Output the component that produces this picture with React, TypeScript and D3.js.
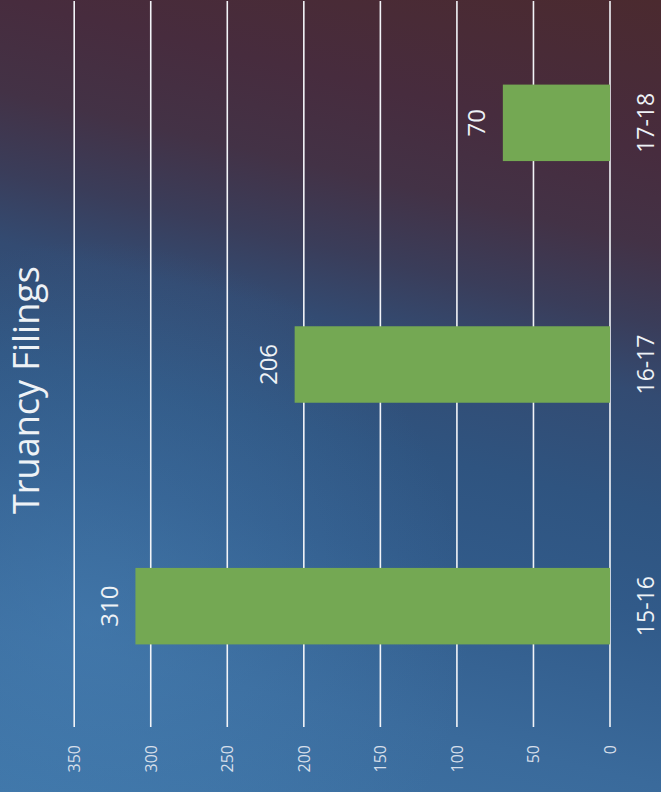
import React from "react";
import * as d3 from "d3";

const categories = ["15-16", "16-17", "17-18"];
const values = [310, 206, 70];
const tickValues = [0, 50, 100, 150, 200, 250, 300, 350];
const title = "Truancy Filings";

const W = 661;
const H = 792;
const FONT = "'Open Sans', 'DejaVu Sans', sans-serif";

export default function App() {
  // chart is photographed rotated 90° counter-clockwise:
  // values grow to the left, categories run bottom-to-top
  const x = d3.scaleLinear().domain([0, 350]).range([610, 74.2]);
  const y = d3
    .scaleBand<string>()
    .domain(categories)
    .range([727, 2])
    .paddingInner(0.6835)
    .paddingOuter(0.6835 / 2);

  const rot = (px: number, py: number) => `translate(${px},${py}) rotate(-90)`;

  return (
    <svg
      width={W}
      height={H}
      style={{ position: "absolute", left: 0, top: 0, display: "block" }}
    >
      <defs>
        <linearGradient id="bg" gradientUnits="userSpaceOnUse" x1={661} y1={0} x2={450} y2={897}>
          <stop offset="0" stopColor="#4b2a2f" />
          <stop offset="0.163" stopColor="#472c3e" />
          <stop offset="0.26" stopColor="#433246" />
          <stop offset="0.345" stopColor="#3a3d5a" />
          <stop offset="0.42" stopColor="#334b72" />
          <stop offset="0.54" stopColor="#2f5480" />
          <stop offset="0.65" stopColor="#315a89" />
          <stop offset="0.83" stopColor="#3a6a9b" />
          <stop offset="1" stopColor="#3e74a6" />
        </linearGradient>
        <radialGradient id="glow" gradientUnits="userSpaceOnUse" cx={90} cy={620} r={380}>
          <stop offset="0" stopColor="#4a86bb" stopOpacity={0.45} />
          <stop offset="1" stopColor="#4a86bb" stopOpacity={0} />
        </radialGradient>
      </defs>
      <rect x={0} y={0} width={W} height={H} fill="url(#bg)" />
      <rect x={0} y={0} width={W} height={H} fill="url(#glow)" />

      {/* gridlines */}
      {tickValues.map((t) => (
        <line
          key={"g" + t}
          x1={x(t)}
          x2={x(t)}
          y1={1}
          y2={727}
          stroke="#f2f4f8"
          strokeWidth={1.6}
        />
      ))}

      {/* bars */}
      {categories.map((c, i) => (
        <rect
          key={"b" + c}
          x={x(values[i])}
          y={y(c)!}
          width={x(0) - x(values[i])}
          height={y.bandwidth()}
          fill="#74a853"
        />
      ))}

      {/* value tick labels */}
      {tickValues.map((t) => (
        <text
          key={"t" + t}
          transform={rot(x(t), 745)}
          textAnchor="end"
          dy="0.36em"
          fontFamily={FONT}
          fontSize={16}
          fill="#d6dfea"
        >
          {t}
        </text>
      ))}

      {/* category labels */}
      {categories.map((c) => (
        <text
          key={"c" + c}
          transform={rot(654, y(c)! + y.bandwidth() / 2)}
          textAnchor="middle"
          fontFamily={FONT}
          fontSize={23}
          fill="#eef2f6"
        >
          {c}
        </text>
      ))}

      {/* data labels */}
      {categories.map((c, i) => (
        <text
          key={"d" + c}
          transform={rot(x(values[i]) - 26, y(c)! + y.bandwidth() / 2)}
          textAnchor="middle"
          dy="0.36em"
          fontFamily={FONT}
          fontSize={24}
          fill="#eef2f6"
        >
          {values[i]}
        </text>
      ))}

      {/* title */}
      <text
        transform={rot(39, 390)}
        textAnchor="middle"
        fontFamily={FONT}
        fontSize={36}
        fill="#eef2f6"
      >
        {title}
      </text>
    </svg>
  );
}
